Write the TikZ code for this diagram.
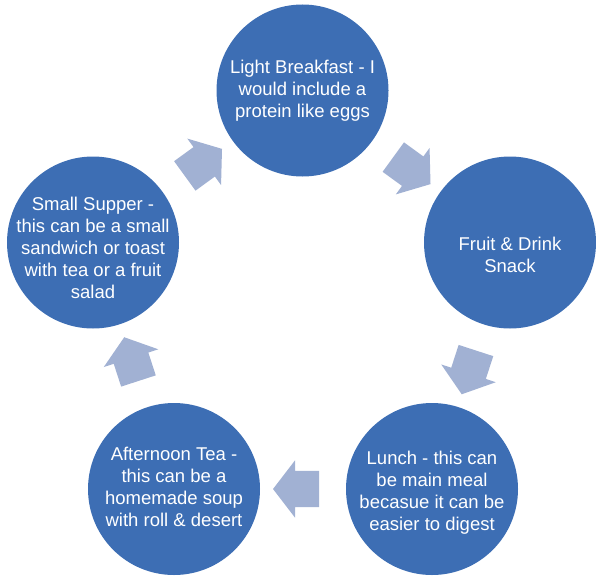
\documentclass[tikz,border=0pt]{standalone}
\usepackage{fontspec}
\setmainfont{Liberation Sans}
\usepackage{tikz}
\usetikzlibrary{shapes.arrows,calc}
\definecolor{mealblue}{RGB}{61,110,180}
\definecolor{arrowblue}{RGB}{161,177,211}
\tikzset{
  meal/.style={circle,fill=mealblue,minimum size=172pt,inner sep=0pt},
  mealtext/.style={text=white,align=center,font=\fontsize{18.5}{22}\selectfont},
  cyclearrow/.style={single arrow,fill=arrowblue,minimum height=46pt,inner xsep=0pt,inner ysep=18pt,
    single arrow head extend=10.5pt,single arrow tip angle=105}
}
\begin{document}
\begin{tikzpicture}[x=1pt,y=-1pt]
    \useasboundingbox (0,0) rectangle (596,575);
    % draw the five meals
    \node[meal] (brk) at (302.5,90.5) {};
    \node[meal] (snk) at (510,242.5) {};
    \node[meal] (lun) at (432,489) {};
    \node[meal] (tea) at (174,489) {};
    \node[meal] (sup) at (93,242.5) {};
    \node[mealtext] (brktxt) at (brk) {Light Breakfast - I\\would include a\\protein like eggs};
    \node[mealtext,yshift=-12pt] (snktxt) at (snk) {Fruit \& Drink\\Snack};
    \node[mealtext,yshift=-4pt] (luntxt) at (lun) {Lunch - this can\\be main meal\\becasue it can be\\easier to digest};
    \node[mealtext,yshift=2pt] (teatxt) at (tea) {Afternoon Tea -\\this can be a\\homemade soup\\with roll \& desert};
    \node[mealtext,yshift=-5pt] (suptxt) at (sup) {Small Supper -\\this can be a small\\sandwich or toast\\with tea or a fruit\\salad};
    % draw arrows between meals
    \foreach \a/\b/\r in {brk/snk/-36,snk/lun/-108,lun/tea/180,tea/sup/108,sup/brk/36}
    \node[cyclearrow,rotate=\r] (arr-\a) at ($(\a)!0.5!(\b)$) {};
\end{tikzpicture}
\end{document}
